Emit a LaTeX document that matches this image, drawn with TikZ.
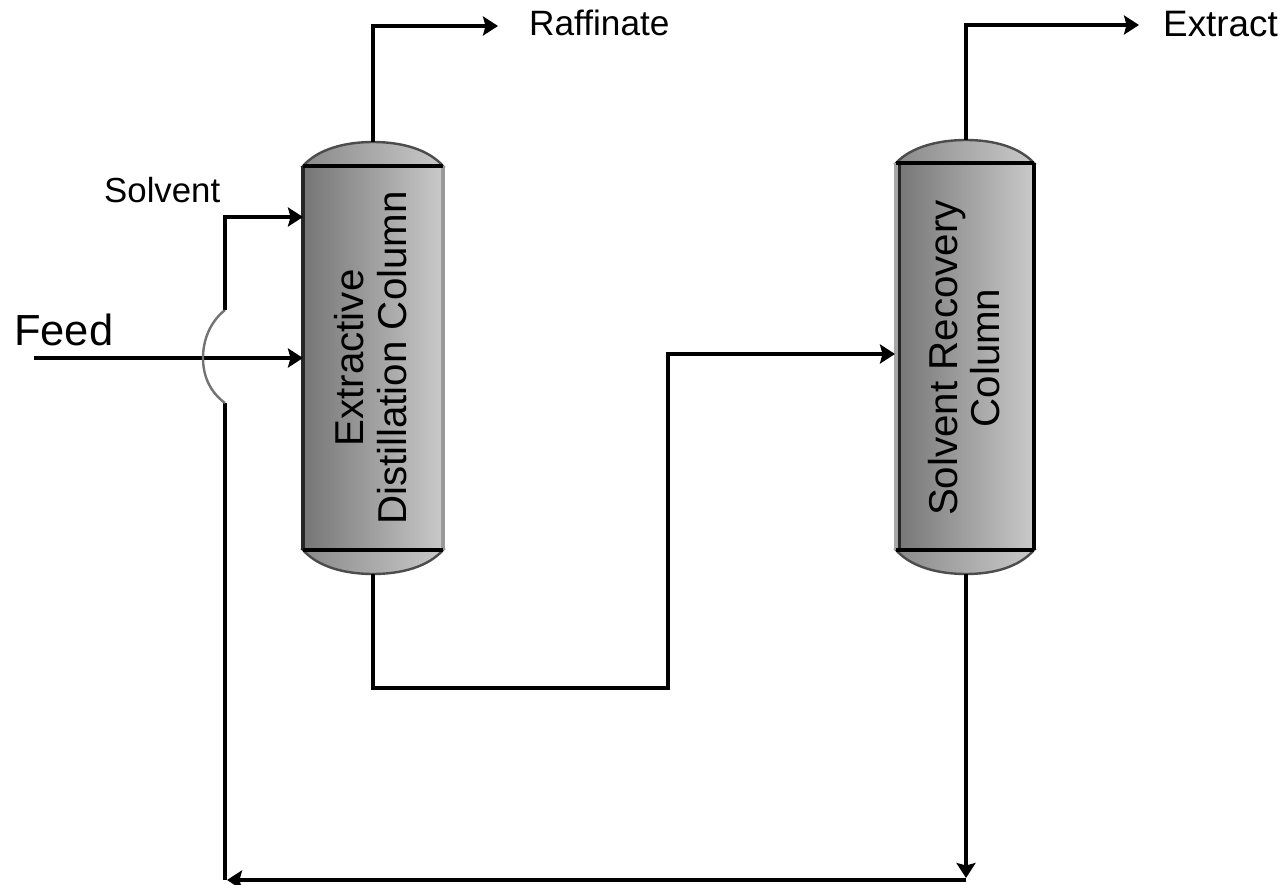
\documentclass[tikz,border=0pt]{standalone}
\usepackage{fontspec}
\setmainfont{Liberation Sans}
\usetikzlibrary{arrows.meta}
\definecolor{colL}{gray}{0.46}
\definecolor{colR}{gray}{0.79}
\tikzset{
  x=1pt,y=-1pt,
  flow/.style={line width=3.8pt,black,line join=miter},
  flowthin/.style={line width=3.3pt,black},
  tip/.style={-{Stealth[length=15pt,width=19pt,inset=2.5pt]}},
  body/.style={rectangle,draw=none,left color=colL,right color=colR,inner sep=0pt,minimum width=140pt},
  headcap/.style={left color=colL!85!white,right color=colR,draw=black!70,line width=2.4pt},
  band/.style={line width=3.8pt,black},
  lbl/.style={inner sep=0pt,anchor=base west,black},
  collbl/.style={inner sep=0pt,rotate=90,black,align=center,font=\fontsize{40.3}{42.5}\selectfont}
}
\begin{document}
\begin{tikzpicture}
\useasboundingbox (0,0) rectangle (1284,885);
\fill[white] (0,0) rectangle (1284,885);
% --- column 1
\path[headcap] (303,166) .. controls (318,149) and (345,142) .. (373,142) .. controls (401,142) and (428,149) .. (443,166) -- cycle;
\path[headcap] (303,550) .. controls (318,567) and (345,574) .. (373,574) .. controls (401,574) and (428,567) .. (443,550) -- cycle;
\node[body,minimum height=384pt] (c1) at (373,358) {};
\draw[line width=3.5pt,black!85] (c1.north west) -- (c1.south west);
\draw[line width=3.5pt,black!40] (c1.north east) -- (c1.south east);
\draw[band] (c1.north west) -- (c1.north east);
\draw[band] (c1.south west) -- (c1.south east);
\node[collbl] (c1t) at (370.5,358) {Extractive\\Distillation Column};
\coordinate (c1top) at (373,142);
\coordinate (c1bot) at (373,574);
% --- column 2
\path[headcap] (896,163) .. controls (911,147) and (938,140) .. (966,140) .. controls (994,140) and (1019,147) .. (1034,163) -- cycle;
\path[headcap] (896,550) .. controls (911,567) and (938,574) .. (966,574) .. controls (994,574) and (1019,567) .. (1034,550) -- cycle;
\node[body,minimum width=138pt,minimum height=387pt] (c2) at (965,356.5) {};
\draw[line width=3.5pt,black!35] (c2.north west) -- (c2.south west);
\draw[line width=3.5pt,black] (c2.north east) -- (c2.south east);
\draw[line width=3pt,black!85] ([xshift=3.5pt]c2.north west) -- ([xshift=3.5pt]c2.south west);
\draw[band] (c2.north west) -- (c2.north east);
\draw[band] (c2.south west) -- (c2.south east);
\node[collbl] (c2t) at (964,358) {Solvent Recovery\\Column};
\coordinate (c2top) at (966,140);
\coordinate (c2bot) at (966,574);
% --- labels
\node[lbl,font=\fontsize{35.2}{38}\selectfont] (raf) at (529,36) {Raffinate};
\node[lbl,font=\fontsize{36.8}{40}\selectfont] (ext) at (1163,37) {Extract};
\node[lbl,font=\fontsize{34.8}{38}\selectfont] (sol) at (104,203) {Solvent};
\node[lbl,font=\fontsize{43.5}{46}\selectfont] (fee) at (14,345) {Feed};
% --- free ends
\coordinate (rafend) at (498,26);
\coordinate (extend) at (1139,25);
\coordinate (feedstart) at (34,358);
\coordinate (c1sol) at (303,217);
\coordinate (c1feed) at (303,358);
\coordinate (c2feed) at (895,354);
\coordinate (bR) at (966,880);
\coordinate (bL) at (225,880);
\coordinate (bumpB) at (225,403);
\coordinate (bumpT) at (225,310);
% --- connectors
\draw[flow,tip] (c1top) |- (rafend);
\draw[flow,tip] (c2top) |- (extend);
\draw[flow,tip] (c1bot) -- (373,688) -- (668,688) -- (668,354) -- (c2feed);
\draw[flowthin,tip] (feedstart) -- (c1feed);
\draw[flowthin,tip] (c2bot) -- (966,878);
\draw[flow,tip] (bR) -- ([xshift=2pt]bL);
\draw[flow] (bL) -- (bumpB);
\draw[line width=2.4pt,black!55] (bumpB) .. controls (210,392) and (203,376) .. (203,358) .. controls (203,340) and (210,322) .. (bumpT);
\draw[flow,tip] (bumpT) |- (c1sol);
\end{tikzpicture}
\end{document}
